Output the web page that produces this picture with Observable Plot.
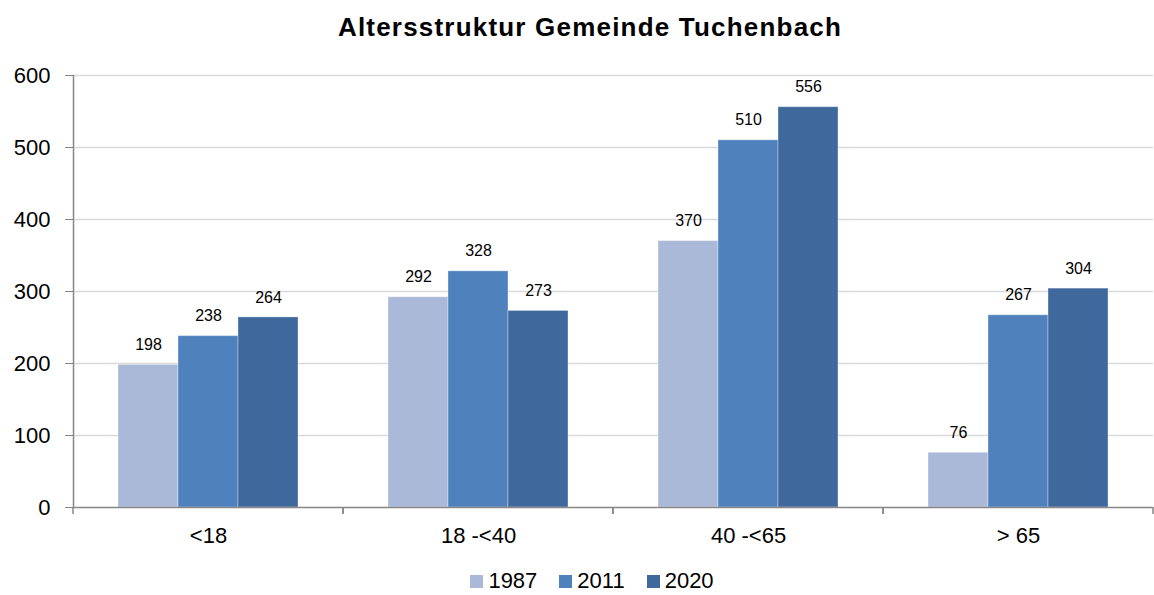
<!DOCTYPE html>
<html><head><meta charset="utf-8">
<script src="https://cdn.jsdelivr.net/npm/d3@7"></script>
<script src="https://cdn.jsdelivr.net/npm/@observablehq/plot@0.6"></script>
<style>
body{margin:0;background:#fff;font-family:"Liberation Sans",Arial,sans-serif;overflow:hidden;}
#title{height:50px;line-height:54px;text-align:center;font-weight:bold;font-size:26px;letter-spacing:1.2px;padding-left:26px;box-sizing:border-box;width:1154px;color:#000;}
#chart svg{display:block;overflow:visible;}
#legend{width:1154px;padding-left:52px;box-sizing:border-box;margin-top:12px;height:24px;}
#legend > div{justify-content:center !important;font-size:22px !important;line-height:24px !important;font-family:"Liberation Sans",Arial,sans-serif !important;color:#000;min-height:0 !important;height:24px;margin:0 !important;}
#legend > div svg{margin-right:5px !important;}
</style></head><body>
<div id="title">Altersstruktur Gemeinde Tuchenbach</div>
<div id="chart"></div>
<div id="legend"></div>
<script>
const categories = ["<18", "18 -<40", "40 -<65", "> 65"];
const years = ["1987", "2011", "2020"];
const values1987 = [198, 292, 370, 76];
const values2011 = [238, 328, 510, 267];
const values2020 = [264, 273, 556, 304];
const colors = ["#AAB9D7", "#4F81BD", "#3F699D"];
const yTicks = [0, 100, 200, 300, 400, 500, 600];

const series = [values1987, values2011, values2020];
const data = categories.flatMap((c, i) => years.map((y, j) => ({category: c, year: y, value: series[j][i]})));

const boundaryTicks = (index, scales, values, dimensions) => {
  const g = d3.create("svg:g");
  const y0 = scales.y(0);
  const {marginLeft, width, marginRight} = dimensions;
  for (const x of [marginLeft, width - marginRight]) {
    g.append("line").attr("x1", x).attr("x2", x).attr("y1", y0).attr("y2", y0 + 7)
      .attr("stroke", "#868686").attr("stroke-width", 1.5);
  }
  return g.node();
};

const chart = Plot.plot({
  width: 1154,
  height: 507,
  marginLeft: 72,
  marginRight: 0,
  marginTop: 25,
  marginBottom: 50,
  style: {fontFamily: "Liberation Sans, Arial, sans-serif", color: "#000", background: "#fff"},
  fx: {domain: categories, padding: 0, label: null},
  x: {domain: years, paddingInner: 0, paddingOuter: 0.746, axis: null},
  y: {domain: [0, 600], axis: null},
  color: {domain: years, range: colors},
  marks: [
    Plot.ruleY(yTicks.filter(t => t > 0), {stroke: "#d9d9d9", strokeWidth: 1.5}),
    Plot.barY(data, {fx: "category", x: "year", y: "value", fill: "year", stroke: "#ffffff", strokeOpacity: 0.35}),
    Plot.text(data, {fx: "category", x: "year", y: "value", text: d => String(d.value), dy: -20, fontSize: 16, fill: "#000"}),
    Plot.ruleY([0], {stroke: "#868686", strokeWidth: 1.5}),
    Plot.frame({anchor: "left", facetAnchor: "left", stroke: "#868686", strokeWidth: 1.5}),
    boundaryTicks,
    Plot.axisY({ticks: yTicks, tickSize: 8, tickPadding: 15, fontSize: 22, stroke: "#868686", fill: "#000", label: null}),
    Plot.axisFx({anchor: "bottom", tickSize: 0, tickPadding: 20, fontSize: 22, fill: "#000", label: null})
  ]
});
document.getElementById("chart").appendChild(chart);

const legend = Plot.legend({
  color: {domain: years, range: colors, type: "ordinal"},
  swatchSize: 13,
  style: {fontSize: "22px", fontFamily: "Liberation Sans, Arial, sans-serif"}
});
document.getElementById("legend").appendChild(legend);
</script>
</body></html>
